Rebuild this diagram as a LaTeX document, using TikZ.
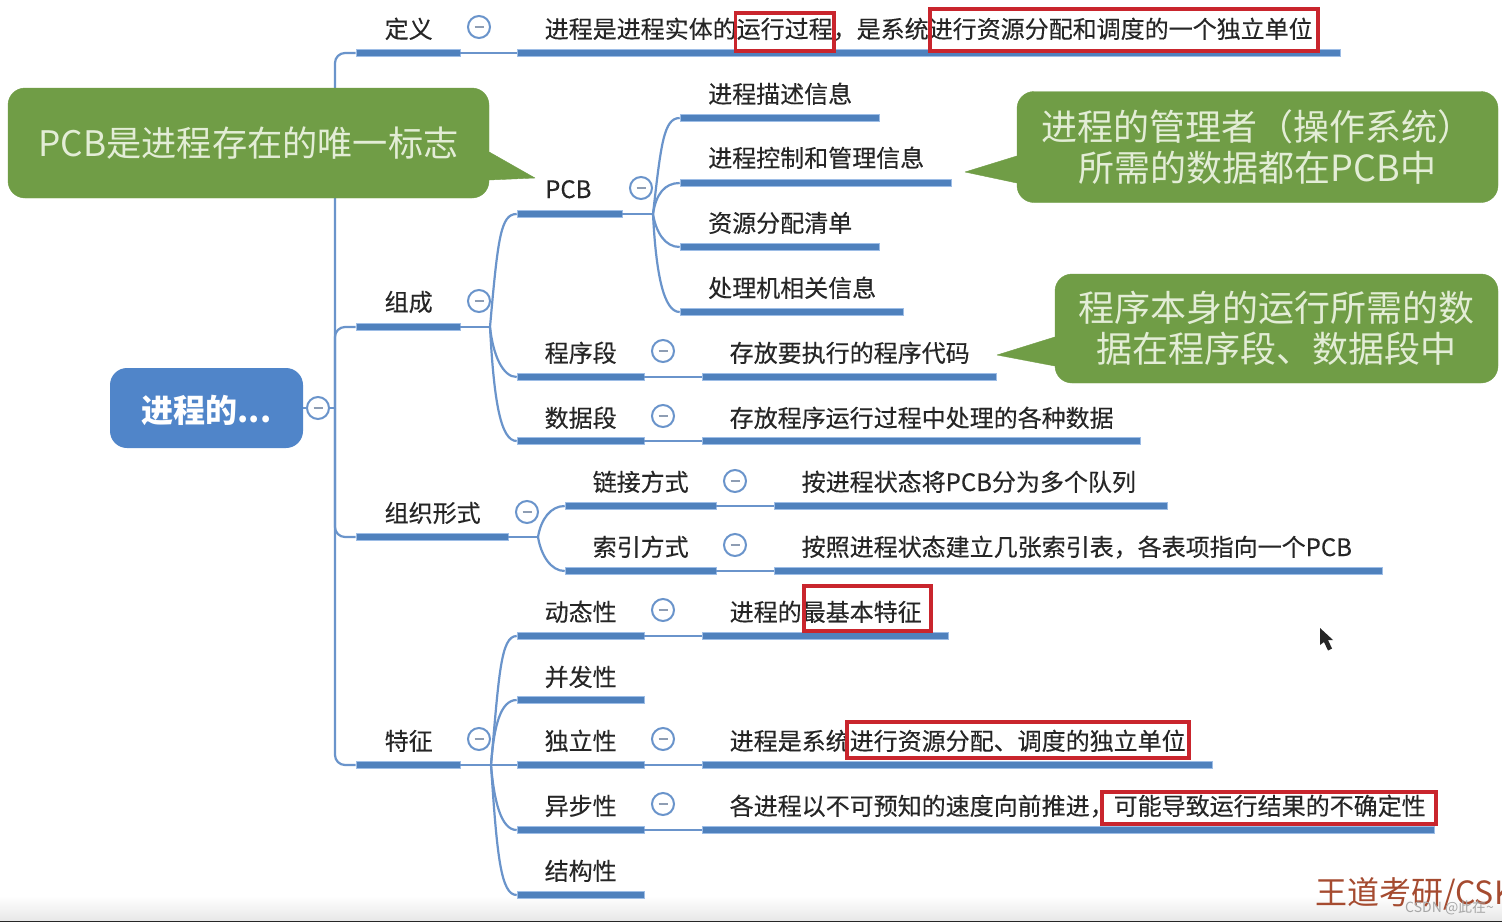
\documentclass[tikz,border=0pt]{standalone}
\usepackage{fontspec}
\setmainfont{Noto Sans CJK SC}
\newfontfamily\labfont{Noto Sans CJK SC}[FakeBold=0.25]
\usetikzlibrary{shapes.geometric}
\definecolor{barblue}{HTML}{4F81BD}
\definecolor{barrim}{HTML}{9DBDE6}
\definecolor{connblue}{HTML}{6A94CB}
\definecolor{minusgrey}{HTML}{8E9DB3}
\definecolor{rootblue}{HTML}{5085C9}
\definecolor{callgreen}{HTML}{709D46}
\definecolor{calltext}{HTML}{E3EDD6}
\definecolor{redbox}{HTML}{C9252D}
\definecolor{wmred}{HTML}{A54B30}
\definecolor{txt}{HTML}{262626}
\tikzset{
  barline/.style={rectangle,fill=barblue,draw=barrim,line width=0.6pt,inner sep=0pt,minimum height=6.5pt},
  lab/.style={anchor=base west,inner sep=0pt,text=txt,font=\labfont\fontsize{24}{28}\selectfont},
  conn/.style={draw=connblue,line width=2.2pt},
  collapse/.style={circle,draw=connblue,fill=white,line width=2pt,inner sep=0pt,minimum size=22pt,
    path picture={\draw[color=minusgrey,line width=2pt] ([xshift=-4.5pt]path picture bounding box.center) -- ([xshift=4.5pt]path picture bounding box.center);}},
  callout/.style={rectangle,rounded corners=17pt,fill=callgreen,draw=callgreen,text=calltext,align=center,inner sep=0pt},
  callfont/.style={font=\fontsize{36}{41}\selectfont},
  pointer/.style={fill=callgreen,draw=callgreen,line join=round},
  redmark/.style={draw=redbox,line width=3.4pt},
}
\newcommand\tbar[4]{\pgfmathsetmacro\bw{#3-#2}\pgfmathsetmacro\bx{(#2+#3)/2}\node[barline,minimum width=\bw pt] (#1) at (\bx,#4) {};}
\newcommand\lab[4]{\node[lab] (#1) at (#2,#3) {#4};}
\newcommand\cc[3]{\node[collapse] (#1) at (#2,#3) {};}
\begin{document}
\begin{tikzpicture}[x=1pt,y=-1pt]
\useasboundingbox (0,0) rectangle (1502,922);
\clip (0,0) rectangle (1502,922);
\fill[white] (0,0) rectangle (1502,922);
\shade[top color=white,bottom color=black!9] (0,896) rectangle (1502,920);
\fill[black!85] (0,920.5) rectangle (1502,922);

% bars
\tbar{b1}{356}{460}{53} \tbar{b1c}{517}{1340}{53}
\tbar{b2}{356}{460}{327}
\tbar{pcb}{517}{622}{214}
\tbar{p1}{680}{879}{118} \tbar{p2}{680}{951}{183} \tbar{p3}{680}{879}{247} \tbar{p4}{680}{903}{312}
\tbar{cx}{517}{644}{377} \tbar{cxc}{702}{996}{377}
\tbar{sj}{517}{644}{441} \tbar{sjc}{702}{1140}{441}
\tbar{b3}{356}{508}{537}
\tbar{lj}{565}{716}{506} \tbar{ljc}{774}{1167}{506}
\tbar{sy}{565}{716}{571} \tbar{syc}{774}{1382}{571}
\tbar{b4}{356}{460}{765}
\tbar{dt}{517}{644}{636} \tbar{dtc}{702}{948}{636}
\tbar{bf}{517}{644}{700}
\tbar{dl}{517}{644}{765} \tbar{dlc}{702}{1212}{765}
\tbar{yb}{517}{644}{830} \tbar{ybc}{702}{1434}{830}
\tbar{jg}{517}{644}{895}

% root
\node[rectangle,rounded corners=17pt,fill=rootblue,text=white,inner sep=0pt,minimum width=193pt,minimum height=80pt,text depth=0pt,font=\fontsize{32}{36}\selectfont\bfseries] (root) at (206.5,408) {\raisebox{-1.5pt}{进程的...}};
\coordinate (trunk) at (335,408);
\coordinate (j2) at (490,327);
\coordinate (jp) at (653,214);
\coordinate (j3) at (538,537);
\coordinate (j4) at (491,765);

% connectors
\begin{scope}[conn]
\draw (root.east) -- (trunk);
\draw[rounded corners=10pt] (trunk) |- (b1.west);
\draw[rounded corners=10pt] (trunk) |- (b2.west);
\draw[rounded corners=10pt] (trunk) |- (b3.west);
\draw[rounded corners=10pt] (trunk) |- (b4.west);
\draw (b1.east) -- (b1c.west);
\draw (b2.east) -- (j2);
\draw (j2) .. controls +(8,-90) and +(-16,0) .. (pcb.west);
\draw (j2) .. controls +(3,28) and +(-14,0) .. (cx.west);
\draw (j2) .. controls +(4,75) and +(-16,0) .. (sj.west);
\draw (pcb.east) -- (jp);
\draw (jp) .. controls +(8,-70) and +(-16,0) .. (p1.west);
\draw (jp) .. controls +(3,-20) and +(-15,0) .. (p2.west);
\draw (jp) .. controls +(3,18) and +(-15,0) .. (p3.west);
\draw (jp) .. controls +(3,60) and +(-16,0) .. (p4.west);
\draw (cx.east) -- (cxc.west);
\draw (sj.east) -- (sjc.west);
\draw (b3.east) -- (j3);
\draw (j3) .. controls +(3,-18) and +(-14,0) .. (lj.west);
\draw (j3) .. controls +(3,18) and +(-14,0) .. (sy.west);
\draw (lj.east) -- (ljc.west);
\draw (sy.east) -- (syc.west);
\draw (b4.east) -- (j4);
\draw (j4) .. controls +(8,-90) and +(-16,0) .. (dt.west);
\draw (j4) .. controls +(3,-40) and +(-16,0) .. (bf.west);
\draw (j4) -- (dl.west);
\draw (j4) .. controls +(3,35) and +(-16,0) .. (yb.west);
\draw (j4) .. controls +(6,90) and +(-16,0) .. (jg.west);
\draw (dt.east) -- (dtc.west);
\draw (dl.east) -- (dlc.west);
\draw (yb.east) -- (ybc.west);
\end{scope}

% collapse marks
\cc{c0}{318}{408}
\cc{c1}{479}{27} \cc{c2}{479}{301} \cc{c3}{527}{512} \cc{c4}{479}{739}
\cc{c5}{641}{188} \cc{c6}{663}{351} \cc{c7}{663}{416}
\cc{c8}{735}{481} \cc{c9}{735}{545}
\cc{c10}{663}{610} \cc{c11}{663}{739} \cc{c12}{663}{804}

% labels
\lab{t1}{384.5}{38}{定义}
\lab{t1c}{544.5}{38}{进程是进程实体的运行过程，是系统进行资源分配和调度的一个独立单位}
\lab{t2}{384.5}{311}{组成}
\lab{tpcb}{545}{198}{PCB}
\lab{tp1}{708}{103}{进程描述信息}
\lab{tp2}{708}{167}{进程控制和管理信息}
\lab{tp3}{708}{232}{资源分配清单}
\lab{tp4}{708}{297}{处理机相关信息}
\lab{tcx}{544.5}{362}{程序段}
\lab{tcxc}{729.5}{362}{存放要执行的程序代码}
\lab{tsj}{544.5}{427}{数据段}
\lab{tsjc}{729.5}{427}{存放程序运行过程中处理的各种数据}
\lab{t3}{384.5}{522}{组织形式}
\lab{tlj}{592.5}{491}{链接方式}
\lab{tljc}{801.5}{491}{按进程状态将PCB分为多个队列}
\lab{tsy}{592.5}{556}{索引方式}
\lab{tsyc}{801.5}{556}{按照进程状态建立几张索引表，各表项指向一个PCB}
\lab{t4}{384.5}{750}{特征}
\lab{tdt}{544.5}{621}{动态性}
\lab{tdtc}{729.5}{621}{进程的最基本特征}
\lab{tbf}{544.5}{686}{并发性}
\lab{tdl}{544.5}{750}{独立性}
\lab{tdlc}{729.5}{750}{进程是系统进行资源分配、调度的独立单位}
\lab{tyb}{544.5}{815}{异步性}
\lab{tybc}{729.5}{815}{各进程以不可预知的速度向前推进，可能导致运行结果的不确定性}
\lab{tjg}{544.5}{880}{结构性}

% red marks
\draw[redmark] (735.5,13) rectangle (834,51);
\draw[redmark] (930,9) rectangle (1318,51);
\draw[redmark] (804,586) rectangle (931,631);
\draw[redmark] (847,722) rectangle (1189,758);
\draw[redmark] (1102,792) rectangle (1436,824);

% callouts
\node[callout,minimum width=481pt,minimum height=110pt,font=\fontsize{35.2}{40}\selectfont] (n1) at (248.5,143) {PCB是进程存在的唯一标志};
\fill[pointer] (n1.east |- 0,152) -- (535,178) -- (n1.east |- 0,180) -- cycle;
\node[callout,callfont,minimum width=481pt,minimum height=111pt] (n2) at (1257.5,147) {进程的管理者（操作系统）\\所需的数据都在PCB中};
\fill[pointer] (n2.west |- 0,156) -- (965,172) -- (n2.west |- 0,183) -- cycle;
\node[callout,callfont,minimum width=443pt,minimum height=109pt] (n3) at (1276.5,328.5) {程序本身的运行所需的数\\据在程序段、数据段中};
\fill[pointer] (n3.west |- 0,337) -- (997,355) -- (n3.west |- 0,366) -- cycle;

% cursor and marks
\fill[black!85] (1320,628) -- (1320,645) -- (1324,642) -- (1328,650.5) -- (1332,648.5) -- (1328,640) -- (1333,640) -- cycle;
\node[anchor=base west,inner sep=0pt,text=wmred,font=\fontsize{32}{36}\selectfont] (wm) at (1315,904) {王道考研/CSK};
\node[anchor=base west,inner sep=0pt,text=black!35,font=\fontsize{14}{16}\selectfont] (csdn) at (1405,912) {CSDN @此在\char"7E};
\end{tikzpicture}
\end{document}
